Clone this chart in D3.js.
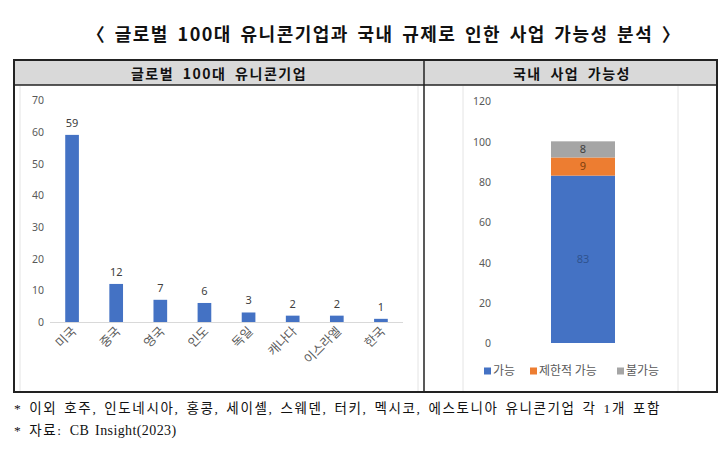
<!DOCTYPE html>
<html><head><meta charset="utf-8">
<script src="https://cdn.jsdelivr.net/npm/d3@7"></script>
<style>body{margin:0;background:#fff}svg{display:block}</style>
</head><body>
<svg id="c" width="720" height="450"></svg>
<script>
const title = "〈 글로벌 100대 유니콘기업과 국내 규제로 인한 사업 가능성 분석 〉";
const leftHeader = "글로벌 100대 유니콘기업";
const rightHeader = "국내 사업 가능성";
const countries = ["미국","중국","영국","인도","독일","캐나다","이스라엘","한국"];
const unicornCounts = [59,12,7,6,3,2,2,1];
const leftTicks = [0,10,20,30,40,50,60,70];
const statusNames = ["가능","제한적 가능","불가능"];
const statusValues = [83,9,8];
const statusColors = ["#4472c4","#ed7d31","#a5a5a5"];
const statusLabelColors = ["#2f528f","#7f3f0f","#404040"];
const rightTicks = [0,20,40,60,80,100,120];
const notes = [["* 이외 호주, 인도네시아, 홍콩, 세이셸, 스웨덴, 터키, 멕시코, 에스토니아 유니콘기업 각 1개 포함", ""],
               ["* 자료: ", "CB Insight(2023)"]];

const svg = d3.select("#c");
const KR = "'Noto Sans CJK KR','Noto Sans',sans-serif";
const AX = "'Noto Sans','Noto Sans CJK KR',sans-serif";

// title
svg.append("text").attr("x",384).attr("y",41).attr("text-anchor","middle")
  .attr("font-family",KR).attr("font-weight","bold").attr("font-size",18)
  .attr("letter-spacing",1.5).attr("word-spacing",3).attr("fill","#111").text(title);

// table
const T = {x0:14, x1:717, y0:60, yh:85, y1:392, xm:424};
svg.append("rect").attr("x",T.x0).attr("y",T.y0).attr("width",T.x1-T.x0).attr("height",T.yh-T.y0).attr("fill","#d9d9d9");
[20,418,463,678].forEach(x=>svg.append("line").attr("x1",x).attr("x2",x).attr("y1",T.yh+1).attr("y2",T.y1-1).attr("stroke","#e4e4e4").attr("stroke-width",1));
svg.append("rect").attr("x",T.x0).attr("y",T.y0).attr("width",T.x1-T.x0).attr("height",T.y1-T.y0)
  .attr("fill","none").attr("stroke","#222").attr("stroke-width",2);
svg.append("line").attr("x1",T.x0).attr("x2",T.x1).attr("y1",T.yh).attr("y2",T.yh).attr("stroke","#222").attr("stroke-width",1.5);
svg.append("line").attr("x1",T.xm).attr("x2",T.xm).attr("y1",T.y0).attr("y2",T.y1).attr("stroke","#222").attr("stroke-width",1.5);
svg.append("text").attr("x",219).attr("y",79).attr("text-anchor","middle")
  .attr("font-family",KR).attr("font-weight","bold").attr("font-size",14)
  .attr("letter-spacing",1.5).attr("word-spacing",4).attr("fill","#111").text(leftHeader);
svg.append("text").attr("x",572).attr("y",79).attr("text-anchor","middle")
  .attr("font-family",KR).attr("font-weight","bold").attr("font-size",14)
  .attr("letter-spacing",1.5).attr("word-spacing",4).attr("fill","#111").text(rightHeader);

// left chart
const x = d3.scaleBand().domain(countries).range([50,403]).paddingInner(0.69).paddingOuter(0.345);
const y = d3.scaleLinear().domain([0,70]).range([322,100]);
const gL = svg.append("g");
const yAxL = gL.append("g").attr("transform","translate(44,0)")
  .call(d3.axisLeft(y).tickValues(leftTicks).tickSize(0).tickPadding(0));
yAxL.select(".domain").remove();
yAxL.selectAll("text").attr("font-family",AX).attr("font-size",10.5).attr("fill","#595959").attr("dy","0.35em");
gL.append("line").attr("x1",50).attr("x2",403).attr("y1",y(0)+0.5).attr("y2",y(0)+0.5).attr("stroke","#d9d9d9");
gL.selectAll("rect.bar").data(countries).join("rect").attr("class","bar")
  .attr("x",d=>x(d)).attr("width",x.bandwidth())
  .attr("y",(d,i)=>y(unicornCounts[i])).attr("height",(d,i)=>y(0)-y(unicornCounts[i]))
  .attr("fill","#4472c4");
gL.selectAll("text.val").data(countries).join("text").attr("class","val")
  .attr("x",d=>x(d)+x.bandwidth()/2).attr("y",(d,i)=>y(unicornCounts[i])-8)
  .attr("text-anchor","middle").attr("font-family",AX).attr("font-size",11).attr("fill","#404040")
  .text((d,i)=>unicornCounts[i]);
const xAxL = gL.append("g").attr("transform",`translate(0,${y(0)})`)
  .call(d3.axisBottom(x).tickSize(0).tickPadding(0));
xAxL.select(".domain").remove();
xAxL.selectAll("text").attr("font-family",KR).attr("font-size",12.5).attr("fill","#595959")
  .attr("text-anchor","end").attr("dy",0).attr("y",0)
  .attr("transform","translate(5,10) rotate(-45)");

// right chart
const yr = d3.scaleLinear().domain([0,120]).range([343,101]);
const gR = svg.append("g");
const yAxR = gR.append("g").attr("transform","translate(491,0)")
  .call(d3.axisLeft(yr).tickValues(rightTicks).tickSize(0).tickPadding(0));
yAxR.select(".domain").remove();
yAxR.selectAll("text").attr("font-family",AX).attr("font-size",10.5).attr("fill","#595959").attr("dy","0.35em");
const stackData = [Object.fromEntries(statusNames.map((n,i)=>[n,statusValues[i]]))];
const series = d3.stack().keys(statusNames)(stackData);
const bx = 551, bw = 64;
gR.selectAll("rect.seg").data(series).join("rect").attr("class","seg")
  .attr("x",bx).attr("width",bw)
  .attr("y",d=>yr(d[0][1])).attr("height",d=>yr(d[0][0])-yr(d[0][1]))
  .attr("fill",(d,i)=>statusColors[i]);
gR.selectAll("text.seg").data(series).join("text").attr("class","seg")
  .attr("x",bx+bw/2).attr("y",d=>yr((d[0][0]+d[0][1])/2)).attr("dy","0.35em")
  .attr("text-anchor","middle").attr("font-family",AX).attr("font-size",11)
  .attr("fill",(d,i)=>statusLabelColors[i]).text((d,i)=>statusValues[i]);
// legend
const legX = [484,530,617];
const lg = gR.selectAll("g.leg").data(statusNames).join("g").attr("class","leg")
  .attr("transform",(d,i)=>`translate(${legX[i]},371)`);
lg.append("rect").attr("x",0).attr("y",-3.5).attr("width",7).attr("height",7).attr("fill",(d,i)=>statusColors[i]);
lg.append("text").attr("x",9).attr("y",0).attr("dy","0.35em").attr("font-family",KR).attr("font-size",12)
  .attr("fill","#595959").text(d=>d);

// notes
const nt = svg.selectAll("text.note").data(notes).join("text").attr("class","note")
  .attr("x",14).attr("y",(d,i)=>413+i*22)
  .attr("font-family","'Liberation Serif','Noto Sans CJK KR',serif").attr("font-size",13.5)
  .attr("word-spacing",2).attr("fill","#111");
nt.append("tspan").attr("letter-spacing",1.6).text(d=>d[0]);
nt.append("tspan").attr("letter-spacing",0.4).attr("font-size",14).text(d=>d[1]);
</script>
</body></html>
